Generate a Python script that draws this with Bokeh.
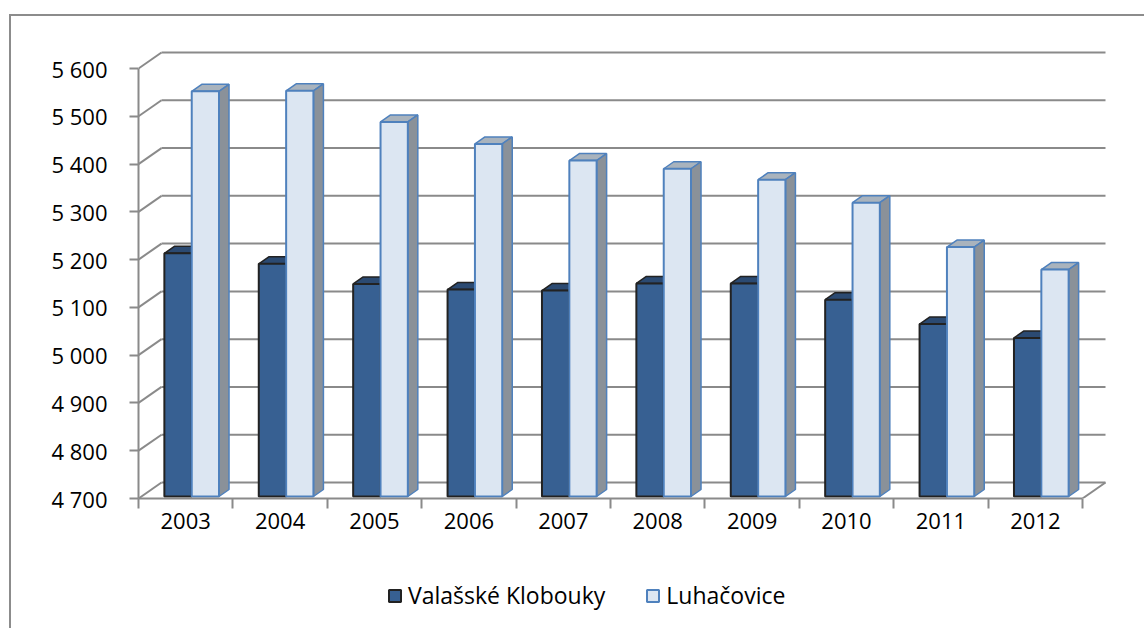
from bokeh.plotting import figure
from bokeh.models import FixedTicker, Legend, LegendItem, Range1d
from bokeh.layouts import column
from bokeh.embed import file_html
from bokeh.resources import INLINE

# ---------------- data ----------------
years = ["2003", "2004", "2005", "2006", "2007", "2008", "2009", "2010", "2011", "2012"]
valasske_klobouky = [5209, 5187, 5145, 5133, 5131, 5146, 5146, 5112, 5061, 5032]
luhacovice = [5548, 5549, 5484, 5438, 5403, 5386, 5363, 5315, 5222, 5175]
series_names = ["Valašské Klobouky", "Luhačovice"]
y_ticks = [4700, 4800, 4900, 5000, 5100, 5200, 5300, 5400, 5500, 5600]
y_tick_labels = ["4 700", "4 800", "4 900", "5 000", "5 100", "5 200", "5 300", "5 400", "5 500", "5 600"]

# ---------------- geometry / style ----------------
PX_X = 94.4            # px per category
PX_Y = 430.0 / 900.0   # px per unit
WALL_DX = 23 / PX_X
WALL_DY = 16 / PX_Y
BAR_DX = 10 / PX_X
BAR_DY = 7 / PX_Y
BASE_LIFT = 2 / PX_Y
Y0 = y_ticks[0]
N = len(years)
GRID = "#8a8a8a"
FONT = "Open Sans"
DARK = dict(front="#376092", top="#2b4a72", side="#2b4a72", line="#222222")
LIGHT = dict(front="#dce6f2", top="#a9b3bd", side="#8a9199", line="#4f81bd")

p = figure(width=1133, height=544,
           x_range=Range1d(0, 968 / PX_X), y_range=Range1d(Y0, Y0 + 453 / PX_Y),
           min_border_left=127, min_border_right=38, min_border_top=29, min_border_bottom=62,
           toolbar_location=None, output_backend="svg")
p.outline_line_color = None
p.xgrid.visible = False
p.ygrid.visible = False
p.background_fill_color = "white"
p.border_fill_color = "white"

# back wall gridlines
p.segment(x0=[WALL_DX] * len(y_ticks), y0=[v + WALL_DY for v in y_ticks],
          x1=[N + WALL_DX] * len(y_ticks), y1=[v + WALL_DY for v in y_ticks],
          line_color=GRID, line_width=2)
# side wall diagonals
p.segment(x0=[0] * len(y_ticks), y0=y_ticks,
          x1=[WALL_DX] * len(y_ticks), y1=[v + WALL_DY for v in y_ticks],
          line_color=GRID, line_width=2)
# floor right edge
p.segment(x0=[N], y0=[Y0], x1=[N + WALL_DX], y1=[Y0 + WALL_DY],
          line_color=GRID, line_width=2)


def draw_bars(values, off_l, off_r, st):
    lefts = [i + 0.5 + off_l for i in range(N)]
    rights = [i + 0.5 + off_r for i in range(N)]
    base = Y0 + BASE_LIFT
    tops = [v + BASE_LIFT for v in values]
    top_xs = [[l, r, r + BAR_DX, l + BAR_DX] for l, r in zip(lefts, rights)]
    top_ys = [[t, t, t + BAR_DY, t + BAR_DY] for t in tops]
    side_xs = [[r, r + BAR_DX, r + BAR_DX, r] for r in rights]
    side_ys = [[base, base + BAR_DY, t + BAR_DY, t] for t in tops]
    p.patches(top_xs, top_ys, fill_color=st["top"], line_color=st["line"], line_width=1.5)
    p.patches(side_xs, side_ys, fill_color=st["side"], line_color=st["line"], line_width=1.5)
    return p.quad(left=lefts, right=rights, bottom=[base] * N, top=tops,
                  fill_color=st["front"], line_color=st["line"], line_width=2)


draw_bars(valasske_klobouky, -0.226, 0.064, DARK)
draw_bars(luhacovice, 0.064, 0.353, LIGHT)

# axes
yax = p.yaxis[0]
yax.ticker = FixedTicker(ticks=y_ticks, minor_ticks=[])
yax.major_label_overrides = dict(zip(y_ticks, y_tick_labels))
yax.bounds = (y_ticks[0], y_ticks[-1])
yax.axis_line_color = GRID
yax.axis_line_width = 2
yax.major_tick_line_color = GRID
yax.major_tick_line_width = 2
yax.major_tick_out = 9
yax.major_tick_in = 0
yax.minor_tick_line_color = None
yax.major_label_standoff = 22
yax.major_label_text_font = FONT
yax.major_label_text_font_size = "22px"
yax.major_label_text_color = "#000000"

centers = [i + 0.5 for i in range(N)]
xax = p.xaxis[0]
xax.ticker = FixedTicker(ticks=centers, minor_ticks=list(range(N + 1)))
xax.major_label_overrides = dict(zip(centers, years))
xax.bounds = (0, N)
xax.axis_line_color = GRID
xax.axis_line_width = 2
xax.major_tick_line_color = None
xax.major_tick_out = 10
xax.major_tick_in = 0
xax.minor_tick_line_color = GRID
xax.minor_tick_line_width = 2
xax.minor_tick_out = 10
xax.minor_tick_in = 0
xax.major_label_standoff = 4
xax.major_label_text_font = FONT
xax.major_label_text_font_size = "22px"
xax.major_label_text_color = "#000000"

# legend strip (separate small figure under the chart; frames are aligned by the column)
pl = figure(width=1133, height=68, x_range=Range1d(0, 1), y_range=Range1d(0, 1),
            x_axis_type=None, y_axis_type=None,
            min_border_left=0, min_border_right=0, min_border_top=0, min_border_bottom=0,
            toolbar_location=None, output_backend="svg")
pl.outline_line_color = None
pl.xgrid.visible = False
pl.ygrid.visible = False
pl.background_fill_color = "white"
pl.border_fill_color = "white"
# legend proxies (kept outside the visible range; only their swatches are shown)
lg_dark = pl.quad(left=[-3], right=[-2], bottom=[-3], top=[-2], fill_color=DARK["front"],
                  line_color=DARK["line"], line_width=2)
lg_light = pl.quad(left=[-3], right=[-2], bottom=[-3], top=[-2], fill_color=LIGHT["front"],
                   line_color=LIGHT["line"], line_width=2)
legend = Legend(items=[LegendItem(label=series_names[0], renderers=[lg_dark]),
                       LegendItem(label=series_names[1], renderers=[lg_light])],
                orientation="horizontal", location=(249, 17),
                glyph_width=15, glyph_height=15, label_standoff=6, spacing=40,
                padding=0, margin=0, border_line_color=None, background_fill_alpha=0,
                label_text_font=FONT, label_text_font_size="23px", label_text_color="#000000")
pl.add_layout(legend)

root = column(p, pl, margin=(14, 0, 0, 9),
              styles={"border-left": "2px solid #8c8c8c", "border-top": "2px solid #8c8c8c"})

open("out.html", "w").write(file_html(root, INLINE))
